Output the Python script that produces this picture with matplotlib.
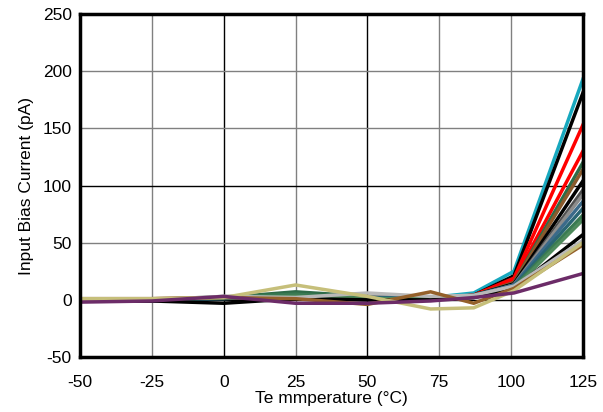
import matplotlib
matplotlib.use("Agg")
import matplotlib.pyplot as plt

plt.rcParams['font.family'] = ['Liberation Sans', 'DejaVu Sans']
plt.rcParams['axes.unicode_minus'] = False

# temperature sweep points (deg C)
temps = [-50, -25, 0, 25, 50, 72, 87, 101, 125]

# input bias current per unit (pA)
unit_cyan = [0, -1, 2, 3, 2, 2, 6, 25, 193]
unit_blk1 = [-1, -1, 1, 2, 1, 1, 4, 21, 181]
unit_red1 = [0, 0, 2, 2, 1, 1, 4, 19, 153]
unit_red2 = [0, 0, 2, 3, 2, 1, 4, 17, 130]
unit_grn1 = [0, 0, 2, 7, 3, 1, 3, 15, 120]
unit_brn1 = [1, 1, 2, 3, 2, 2, 4, 15, 114]
unit_blk2 = [0, 0, 1, 2, 0, 1, 4, 14, 104]
unit_dgry = [0, 0, 2, 2, 2, 1, 3, 13, 96]
unit_mgry = [0, 0, 3, 3, 3, 2, 3, 13, 92]
unit_stl1 = [0, 0, 2, 4, 2, 2, 4, 13, 86]
unit_teal = [0, 0, 1, 4, 2, 1, 3, 12, 80]
unit_grn2 = [0, 0, 2, 5, 1, 1, 3, 11, 74]
unit_grn3 = [0, 0, 2, 3, 1, 1, 3, 10, 70]
unit_blk3 = [-1, -1, -3, 1, 0, 0, 2, 10, 57]
unit_lgry = [0, 0, 3, 2, 6, 3, 4, 12, 52]
unit_brn2 = [1, 1, 2, 1, -4, 7, -3, 10, 48]
unit_khak = [1, 1, 2, 13, 3, -8, -7, 8, 50]
unit_purp = [-2, -1, 3, -3, -3, -1, 2, 6, 23]

series = [
    (unit_cyan, '#17a8be'),
    (unit_blk1, '#000000'),
    (unit_red1, '#ff0000'),
    (unit_red2, '#ff0000'),
    (unit_grn1, '#2e6b48'),
    (unit_brn1, '#8a5a2c'),
    (unit_blk2, '#000000'),
    (unit_dgry, '#505050'),
    (unit_mgry, '#8c8c8c'),
    (unit_stl1, '#3b6a8a'),
    (unit_teal, '#2a6575'),
    (unit_grn2, '#3a7a52'),
    (unit_grn3, '#4e8a5c'),
    (unit_blk3, '#000000'),
    (unit_lgry, '#b8b8b8'),
    (unit_brn2, '#94602a'),
    (unit_khak, '#c6bf7a'),
    (unit_purp, '#6c2c68'),
]

fig = plt.figure(figsize=(6.03, 4.12), dpi=100)
ax = fig.add_axes([0.1327, 0.1335, 0.834, 0.8325])

# alternating dark/grey grid like the datasheet plots
for x in [-25, 0, 25, 50, 75, 100]:
    c = '#000000' if x in (0, 50) else '#808080'
    ax.axvline(x, color=c, lw=1.0, zorder=1)
for y in [0, 50, 100, 150, 200]:
    c = '#000000' if y in (0, 100) else '#808080'
    ax.axhline(y, color=c, lw=1.0, zorder=1)

for vals, col in series:
    ax.plot(temps, vals, color=col, lw=2.5, solid_joinstyle='miter', zorder=3)

ax.set_xlim(-50, 125)
ax.set_ylim(-50, 250)
ax.set_xticks([-50, -25, 0, 25, 50, 75, 100, 125])
ax.set_yticks([-50, 0, 50, 100, 150, 200, 250])
ax.tick_params(length=0, labelsize=12.5)
ax.tick_params(axis='x', pad=13)
ax.tick_params(axis='y', pad=6)
for s in ax.spines.values():
    s.set_linewidth(2.5)
    s.set_zorder(5)

ax.set_xlabel('Te mmperature (°C)', fontsize=12.5, labelpad=1)
ax.set_ylabel('Input Bias Current (pA)', fontsize=12.5, labelpad=6)

fig.savefig('out.png', dpi=100)
